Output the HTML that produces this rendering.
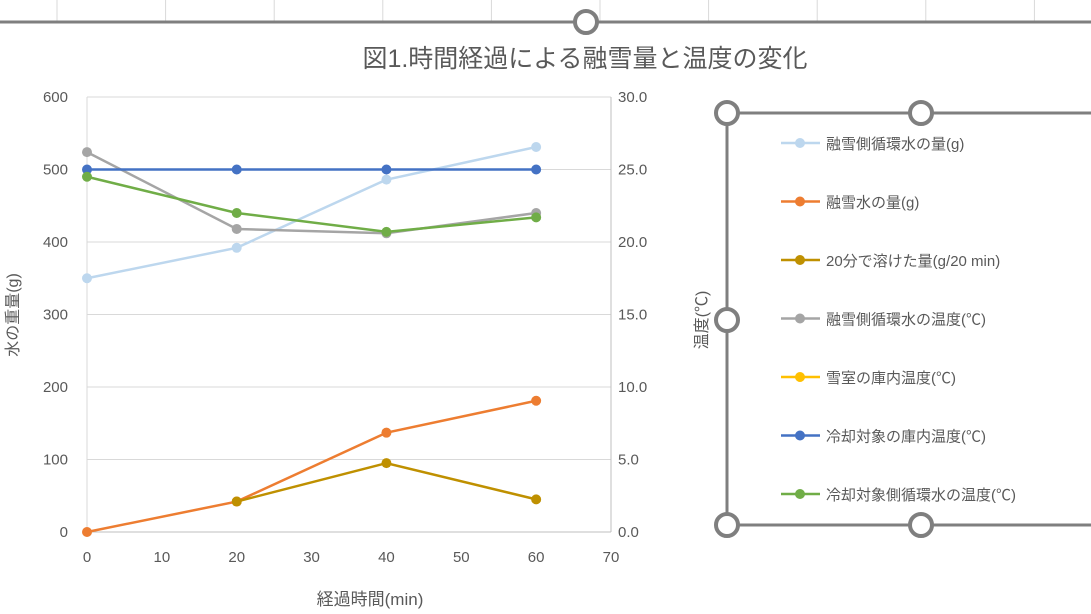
<!DOCTYPE html>
<html><head><meta charset="utf-8"><style>
body{margin:0;background:#fff;}
svg{display:block;font-family:"Liberation Sans","Noto Sans CJK JP",sans-serif;}
</style></head><body>
<svg id="c" width="1091" height="614" viewBox="0 0 1091 614">
<g id="sheet"></g>
<line x1="0" y1="22" x2="1091" y2="22" stroke="#7f7f7f" stroke-width="3"/>
<circle cx="586" cy="22" r="11" fill="#fff" stroke="#7f7f7f" stroke-width="4"/>
<text x="585" y="67" text-anchor="middle" font-size="25" fill="#595959">図1.時間経過による融雪量と温度の変化</text>
<g id="grid"></g>
<g id="axes"></g>
<g id="series"></g>
<text transform="translate(18,315) rotate(-90)" text-anchor="middle" font-size="16" fill="#595959">水の重量(g)</text>
<text transform="translate(707,320) rotate(-90)" text-anchor="middle" font-size="16" fill="#595959">温度(℃)</text>
<text x="370" y="605" text-anchor="middle" font-size="17" fill="#595959">経過時間(min)</text>
<g>
<line x1="727" y1="113" x2="1091" y2="113" stroke="#7f7f7f" stroke-width="3"/>
<line x1="727" y1="525" x2="1091" y2="525" stroke="#7f7f7f" stroke-width="3"/>
<line x1="727" y1="113" x2="727" y2="525" stroke="#7f7f7f" stroke-width="3"/>
</g>
<g id="handles"></g>
<g id="legend"></g>
</svg>
<script>
const xValues=[0,20,40,60];
const xTicks=[0,10,20,30,40,50,60,70];
const yTicks=[0,100,200,300,400,500,600];
const y2Ticks=["0.0","5.0","10.0","15.0","20.0","25.0","30.0"];
const snowCircWater=[350,392,486,531];
const meltWater=[0,42,137,181];
const melt20=[null,42,95,45];
const snowCircTemp=[26.2,20.9,20.6,22.0];
const roomTemp=[null,null,null,null];
const targetRoomTemp=[25,25,25,25];
const targetCircTemp=[24.5,22.0,20.7,21.7];
const names=["融雪側循環水の量(g)","融雪水の量(g)","20分で溶けた量(g/20 min)","融雪側循環水の温度(℃)","雪室の庫内温度(℃)","冷却対象の庫内温度(℃)","冷却対象側循環水の温度(℃)"];
const NS="http://www.w3.org/2000/svg";
const X0=87,X1=611,Y0=532,Y1=97;
const xs=v=>X0+(v-0)/(70)*(X1-X0);
const ys=v=>Y0-v/600*(Y0-Y1);
const y2s=v=>Y0-v/30*(Y0-Y1);
function mk(p,t,a){const e=document.createElementNS(NS,t);for(const k in a)e.setAttribute(k,a[k]);p.appendChild(e);return e;}
const sheet=document.getElementById('sheet');
for(let i=0;i<11;i++){const l=mk(sheet,'line',{x1:57+i*108.6,y1:0,x2:57+i*108.6,y2:21,stroke:'#d9d9d9'});

}
const grid=document.getElementById('grid'),axes=document.getElementById('axes');
yTicks.forEach((t,i)=>{const y=ys(t);
const l=mk(grid,'line',{x1:X0,y1:y,x2:X1,y2:y,stroke:i==0?'#bfbfbf':'#d9d9d9','stroke-width':1});


const tx=mk(axes,'text',{x:68,y:y+5,'text-anchor':'end','font-size':15,fill:'#595959'});tx.textContent=t;


const t2=mk(axes,'text',{x:618,y:y2s(i*5)+5,'font-size':15,fill:'#595959'});t2.textContent=y2Ticks[i];

});
mk(grid,'line',{x1:X0,y1:Y1,x2:X0,y2:Y0,stroke:'#d9d9d9'});
mk(grid,'line',{x1:X1,y1:Y1,x2:X1,y2:Y0,stroke:'#bfbfbf'});
xTicks.forEach(t=>{const tx=mk(axes,'text',{x:xs(t),y:562,'text-anchor':'middle','font-size':15,fill:'#595959'});tx.textContent=t;

});
const series=[[snowCircWater,'#bdd7ee',ys],[meltWater,'#ed7d31',ys],[melt20,'#bf9000',ys],[snowCircTemp,'#a5a5a5',y2s],[roomTemp,'#ffc000',y2s],[targetRoomTemp,'#4472c4',y2s],[targetCircTemp,'#70ad47',y2s]];
const sg=document.getElementById('series');
series.forEach(([d,c,sc],si)=>{const g=mk(sg,'g',{});


const pts=[];d.forEach((v,i)=>{if(v!==null)pts.push([xs(xValues[i]),sc(v)]);});
if(pts.length>1){const pl=mk(g,'polyline',{points:pts.map(p=>p.join(',')).join(' '),fill:'none',stroke:c,'stroke-width':2.5});

}
pts.forEach(p=>{const m=mk(g,'circle',{cx:p[0],cy:p[1],r:5,fill:c});

});});
const lg=document.getElementById('legend');
names.forEach((n,i)=>{const y=143+i*58.5;const g=mk(lg,'g',{});


mk(g,'line',{x1:781,y1:y,x2:820,y2:y,stroke:series[i][1],'stroke-width':2.5});
mk(g,'circle',{cx:800,cy:y,r:5,fill:series[i][1]});
const t=mk(g,'text',{x:826,y:y+6,'font-size':15,fill:'#595959'});t.textContent=n;});
const hg=document.getElementById('handles');
[[727,113],[921,113],[727,320],[727,525],[921,525]].forEach(p=>{const h=mk(hg,'circle',{cx:p[0],cy:p[1],r:11,fill:'#fff',stroke:'#7f7f7f','stroke-width':4});

});
</script>
</body></html>
